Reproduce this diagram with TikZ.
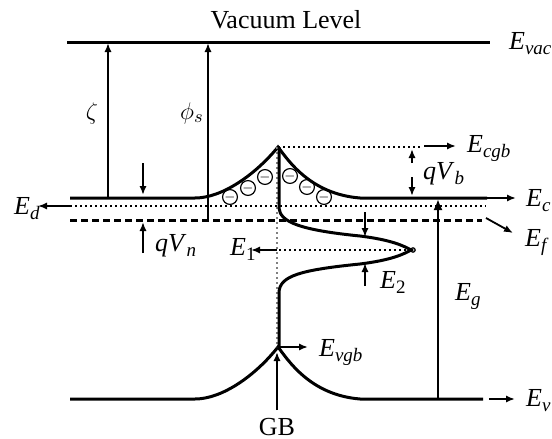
\documentclass[tikz,border=0pt]{standalone}
\usepackage{fontspec}
\setmainfont{Liberation Serif}
\usetikzlibrary{arrows.meta}
\newcommand\nivel[2]{\textit{#1}\raisebox{-0.45ex}{\fontsize{9.5}{9.5}\selectfont #2}}

\begin{document}
\begin{tikzpicture}[x=0.5pt, y=-0.5pt, line width=1.5pt,
  font=\fontsize{13}{15}\selectfont,
  flecha/.style={line width=0.9pt, -{Latex[length=4.5pt,width=3.6pt]}},
  flechota/.style={line width=1.1pt, -{Latex[length=5.5pt,width=4.6pt]}},
  puntos/.style={line width=0.7pt, dash pattern=on 1.2pt off 1.3pt},
  carga/.style={circle, draw, line width=0.6pt, inner sep=0pt, minimum size=6.4pt,
    font=\fontsize{6.5}{6.5}\selectfont}]
  \useasboundingbox (0,0) rectangle (552,439);
  % nivel de vacío
  \draw (67,42) -- (490,42);
  \node (vac) at (286,20) {Vacuum Level};
  \node[anchor=base west] (evac) at (501,49) {\nivel{E}{\textit{vac}}};
  % banda de conducción
  \coordinate (cb) at (278,147);
  \draw (70,198) -- (195,198) .. controls (222,198) and (255,175) .. (cb)
        .. controls (288,160) and (310,194) .. (360,198) -- (487,198);
  \draw[flecha] (487,198) -- (516,198);
  \node[anchor=base west] (ec) at (518,206) {\nivel{E}{\textit{c}}};
  % nivel donador
  \draw[puntos] (70,206) -- (486,206);
  \draw[flecha] (70,206) -- (38,206);
  \node[anchor=base west] (ed) at (6,214) {\nivel{E}{\textit{d}}};
  % nivel de Fermi
  \draw[dash pattern=on 3.5pt off 2pt] (70,220) -- (482,220);
  \draw[flecha] (486,218) -- (513,233);
  \node[anchor=base west] (ef) at (517,246) {\nivel{E}{\textit{f}}};
  % banda de valencia
  \coordinate (vb) at (278,347);
  \draw (70,399) -- (195,399) .. controls (222,399) and (255,376) .. (vb)
        .. controls (288,360) and (310,395) .. (360,399) -- (483,399);
  \draw[flecha] (489,399) -- (515,399);
  \node[anchor=base west] (ev) at (518,406) {\nivel{E}{\textit{v}}};
  % afinidad y función de trabajo
  \draw[flecha] (108,198) -- (108,43);
  \node (zeta) at (92,113) {$\zeta$};
  \draw[flecha] (208,220) -- (208,43);
  \node (phis) at (192,113) {$\phi_s$};
  % qVn
  \draw[flecha] (143,163) -- (143,195);
  \draw[flecha] (143,253) -- (143,222);
  \node[anchor=base west] (qvn) at (147,251) {\nivel{qV}{\textit{n}}};
  % frontera de grano
  \draw[puntos, gray] (277,147) -- (277,347);
  \draw (279,147) -- (279,208) .. controls (280,222) and (300,230) .. (360,236)
        .. controls (392,240) and (404,246) .. (411,250)
        .. controls (404,254) and (392,260) .. (360,264)
        .. controls (300,270) and (280,276) .. (279,292) -- (279,347);
  \draw[line width=0.6pt] (413,250) circle (2.2);
  \draw[puntos] (279,250) -- (409,250);
  \draw[flecha] (277,250) -- (251,250);
  \node[anchor=base west] (e1) at (222,255) {\nivel{E}{1}};
  \draw[flecha] (365,212) -- (365,237);
  \draw[flecha] (365,286) -- (365,263);
  \node[anchor=base west] (e2) at (372,288) {\nivel{E}{2}};
  % cargas atrapadas
  \foreach \px/\py in {230/197, 248/188, 265/177, 290/176, 307/187, 324/197}
    \node[carga] at (\px,\py) {$-$};
  % barrera
  \draw[puntos] (cb) -- (420,147);
  \draw[flecha] (424,146) -- (456,146);
  \node[anchor=base west] (ecgb) at (459,152) {\nivel{E}{\textit{cgb}}};
  \draw[flecha] (412,163) -- (412,149);
  \draw[flecha] (412,177) -- (412,196);
  \node[anchor=base west] (qvb) at (415,179) {\nivel{qV}{\textit{b}}};
  % gap
  \draw[flechota] (438,399) -- (438,199);
  \node[anchor=base west] (eg) at (447,300) {\nivel{E}{\textit{g}}};
  \draw[flecha] (vb) -- (308,347);
  \node[anchor=base west] (evgb) at (311,356) {\nivel{E}{\textit{vgb}}};
  \draw[flecha] (277,410) -- (277,352);
  \node (gb) at (277,427) {GB};
\end{tikzpicture}
\end{document}
